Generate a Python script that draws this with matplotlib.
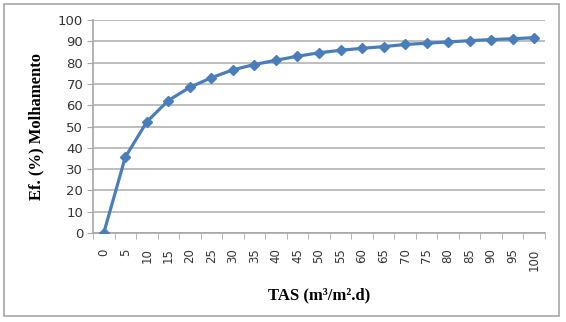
import matplotlib.pyplot as plt
from matplotlib.patches import Rectangle

# Data
tas = [0, 5, 10, 15, 20, 25, 30, 35, 40, 45, 50,
       55, 60, 65, 70, 75, 80, 85, 90, 95, 100]
eficiencia = [0, 35.6, 52.2, 62.2, 68.4, 72.9, 76.6, 79.1, 81.1, 83.0, 84.6,
              85.8, 86.7, 87.5, 88.5, 89.1, 89.7, 90.3, 90.8, 91.2, 91.7]

fig = plt.figure(figsize=(5.66, 3.22), dpi=100)
ax = fig.add_axes([93 / 566, 1 - 233 / 322, 452 / 566, 213 / 322])

# outer chart border
fig.patches.append(Rectangle((4 / 566, 6 / 322), 555 / 566, 312 / 322,
                             transform=fig.transFigure, fill=False,
                             edgecolor="#a6a6a6", linewidth=1.2))

idx = list(range(len(tas)))
ax.plot(idx, eficiencia, color="#4a7ebb", linewidth=2.3,
        marker="D", markersize=5.5, markerfacecolor="#4a7ebb",
        markeredgecolor="#4a7ebb", zorder=3)

ax.set_xlim(-0.5, len(tas) - 0.5)
ax.set_ylim(0, 100)
ax.set_yticks(range(0, 101, 10))
ax.yaxis.grid(True, color="#b3b3b3", linewidth=1.2)
ax.set_axisbelow(True)

# category axis: labels at centers, tick marks at boundaries
ax.set_xticks(idx)
ax.set_xticklabels([str(t) for t in tas], rotation=90, fontsize=8.5,
                   color="#333333")
ax.set_xticks([i - 0.5 for i in range(len(tas) + 1)], minor=True)
ax.tick_params(axis="x", which="major", length=0, pad=11)
ax.tick_params(axis="x", which="minor", length=4, color="#a6a6a6")
ax.tick_params(axis="y", length=4, color="#a6a6a6", labelsize=9.5,
               labelcolor="#333333", pad=3)

for s in ["top", "right"]:
    ax.spines[s].set_visible(False)
for s in ["left", "bottom"]:
    ax.spines[s].set_color("#a6a6a6")
    ax.spines[s].set_linewidth(1.2)

ax.set_ylabel("Ef. (%) Molhamento", family="Liberation Serif",
              fontweight="bold", fontsize=12, labelpad=10)
ax.set_xlabel("TAS (m³/m².d)", family="Liberation Serif",
              fontweight="bold", fontsize=12, labelpad=12)

fig.savefig("out.png", dpi=100)
